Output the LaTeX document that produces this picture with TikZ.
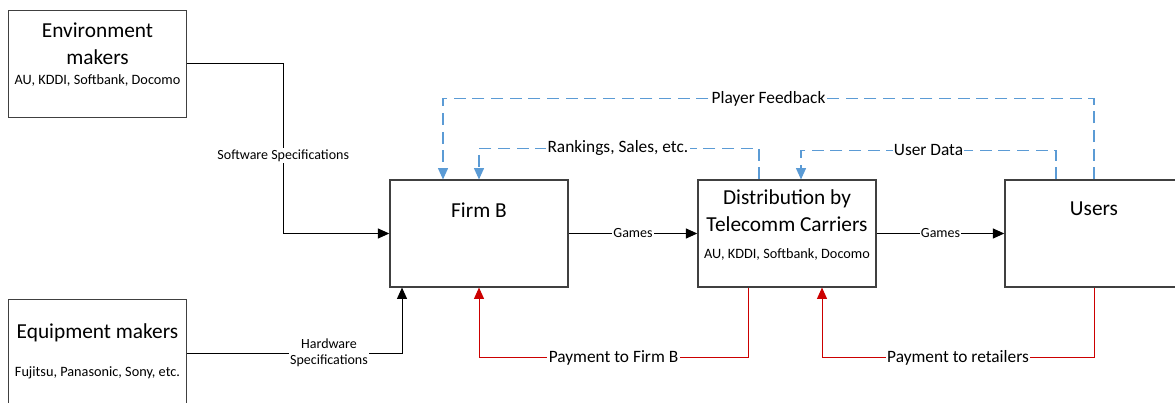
\documentclass[tikz,border=0pt]{standalone}
\usepackage{fontspec}
\setmainfont{Carlito}
\usepackage{tikz}
\usetikzlibrary{calc}
\usetikzlibrary{arrows.meta}
\definecolor{fbblue}{RGB}{91,155,213}
\definecolor{payred}{RGB}{204,0,0}
\definecolor{boxgray}{RGB}{64,64,64}
\tikzset{>={Triangle[length=8.5pt,width=7.5pt]}}
\tikzset{
  actor/.style={draw=boxgray, line width=1.1pt, minimum width=133.5pt, minimum height=80pt, inner sep=0pt},
  flow/.style={draw=black, line width=0.75pt},
  feedback/.style={draw=fbblue, line width=0.9pt, dash pattern=on 9pt off 5pt},
  payment/.style={draw=payred, line width=0.75pt},
  lbl/.style={fill=white, inner sep=1pt, font=\fontsize{13}{15}\selectfont},
  tinylbl/.style={fill=white, inner sep=1pt, font=\fontsize{10.5}{12}\selectfont},
  big/.style={font=\fontsize{16}{20}\selectfont},
  small/.style={font=\fontsize{10.7}{12}\selectfont},
}

\begin{document}
\begin{tikzpicture}[x=0.75pt, y=-0.75pt]
    \useasboundingbox (0,0) rectangle (1175,403);

    % the actors
    \node[actor] at (97.5, 64) (env) {};
    \node[big, align=center] at (97.5, 43.5) (envname) {Environment\\makers};
    \node[small] at (97.5, 80) (envlist) {AU, KDDI, Softbank, Docomo};

    \node[actor] at (97.5, 353) (equip) {};
    \node[big] at (97.5, 333) (equipname) {Equipment makers};
    \node[small] at (97.5, 373) (equiplist) {Fujitsu, Panasonic, Sony, etc.};

    \node[actor] at (479, 233.5) (firmb) {};
    \node[big] at (479, 210) (firmbname) {Firm B};

    \node[actor] at (787, 233.5) (dist) {};
    \node[big, align=center] at (787, 211) (distname) {Distribution by\\Telecomm Carriers};
    \node[small] at (787, 254) (distlist) {AU, KDDI, Softbank, Docomo};

    \node[actor] at (1094, 233.5) (users) {};
    \node[big] at (1094, 209) (usersname) {Users};

    % specifications and games
    \draw[flow,->] (env.east) -- ++(96,0) |- node[pos=0.27, tinylbl] {Software Specifications} (firmb.west);
    \draw[flow,->] (equip.east) -| node[pos=0.33, tinylbl, align=center] {Hardware\\Specifications} ($(firmb.south)+(-77,0)$);
    \draw (firmb) edge[flow,->] node[tinylbl] {Games} (dist);
    \draw (dist) edge[flow,->] node[tinylbl] {Games} (users);

    % feedback
    \draw[feedback,->] (users.north) -- ++(0,-81) -| node[pos=0.25, lbl] {Player Feedback} ($(firmb.north)+(-36,0)$);
    \draw[feedback,->] ($(dist.north)+(-28,0)$) -- ++(0,-31) -| node[pos=0.252, lbl] {Rankings, Sales, etc.} (firmb.north);
    \draw[feedback,->] ($(users.north)+(-38,0)$) -- ++(0,-29) -| node[pos=0.25, lbl] {User Data} ($(dist.north)+(14,0)$);

    % payments
    \draw[payment,->] ($(dist.south)+(-39,0)$) -- ++(0,70) -| node[pos=0.25, lbl] {Payment to Firm B} (firmb.south);
    \draw[payment,->] (users.south) -- ++(0,70) -| node[pos=0.25, lbl] {Payment to retailers} ($(dist.south)+(35,0)$);
\end{tikzpicture}
\end{document}
